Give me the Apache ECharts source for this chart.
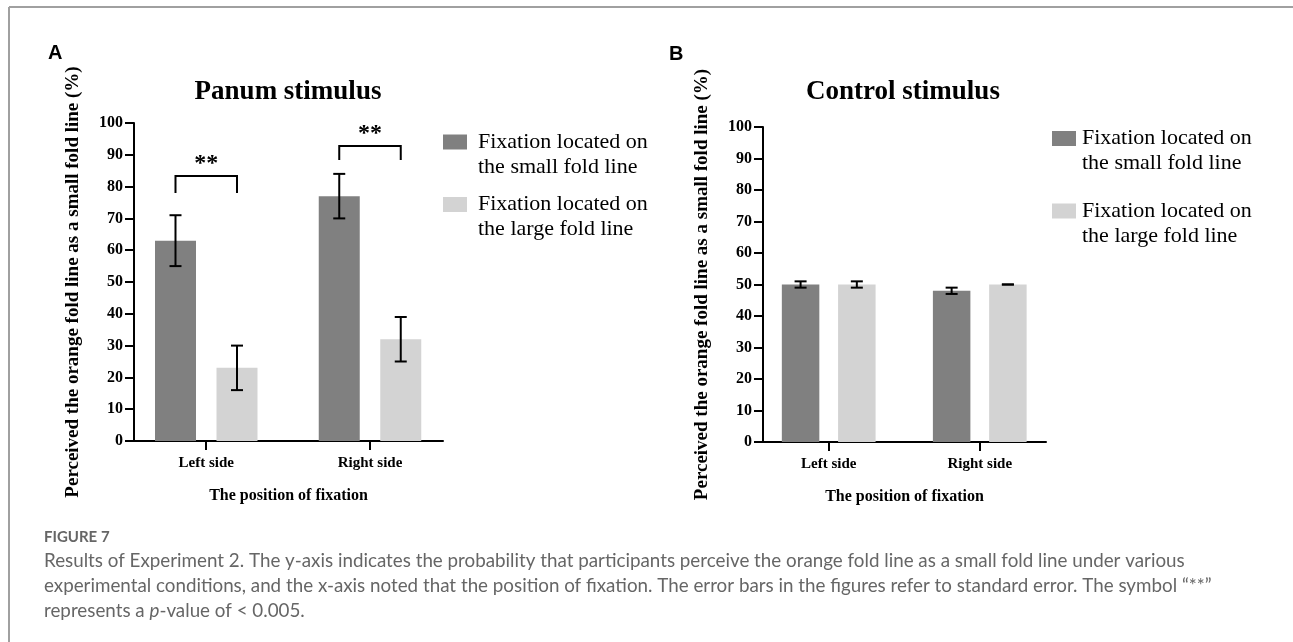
<!DOCTYPE html>
<html>
<head>
<meta charset="utf-8">
<script src="https://cdn.jsdelivr.net/npm/echarts@6/dist/echarts.min.js"></script>
<style>
html,body{margin:0;padding:0;background:#fff;}
#c{width:1293px;height:642px;}
</style>
</head>
<body>
<div id="c"></div>
<script>
// ---------------- data ----------------
const categories = ['Left side', 'Right side'];
const seriesNames = ['Fixation located on\nthe small fold line', 'Fixation located on\nthe large fold line'];
const yTicks = [0, 10, 20, 30, 40, 50, 60, 70, 80, 90, 100];

const panumSmall = [63, 77];
const panumSmallErr = [8, 7];
const panumLarge = [23, 32];
const panumLargeErr = [7, 7];

const controlSmall = [50, 48];
const controlSmallErr = [1, 1];
const controlLarge = [50, 50];
const controlLargeErr = [1, 0];

const sigTop = [83.3, 92.8];
const sigLeg = [78, 88.4];
const sigText = [88.4, 97.8];
const sigLabel = ['**', '**'];

const panelTitles = ['Panum stimulus', 'Control stimulus'];
const panelLetters = ['A', 'B'];
const yName = 'Perceived the orange fold line as a small fold line (%)';
const xName = 'The position of fixation';
const captionHead = 'FIGURE 7';
const captionLines = [
  'Results of Experiment 2. The y-axis indicates the probability that participants perceive the orange fold line as a small fold line under various',
  'experimental conditions, and the x-axis noted that the position of fixation. The error bars in the figures refer to standard error. The symbol \u201c**\u201d',
  '{n|represents a }{i|p}{n|-value of < 0.005.}'
];

// ---------------- style ----------------
const DARK = '#808080';
const LIGHT = '#d3d3d3';
const SERIF = '"Liberation Serif","Times New Roman",serif';
const CAP_FONT = 'Lato, "Open Sans", sans-serif';
const CAP_SIZE = 18.8;

const panels = [
  {grid: {left: 134, top: 123, width: 309, height: 318}, xmin: -0.4412, xmax: 1.4458, barW: 41,
   small: panumSmall, smallErr: panumSmallErr, large: panumLarge, largeErr: panumLargeErr, sig: true},
  {grid: {left: 763, top: 127, width: 283, height: 315}, xmin: -0.435, xmax: 1.4385, barW: 37.5,
   small: controlSmall, smallErr: controlSmallErr, large: controlLarge, largeErr: controlLargeErr, sig: false}
];

const grids = [], xAxes = [], yAxes = [], series = [];

panels.forEach((p, i) => {
  grids.push(Object.assign({containLabel: false}, p.grid));
  xAxes.push({
    type: 'value', gridIndex: i, min: p.xmin, max: p.xmax,
    name: xName, nameLocation: 'middle', nameGap: 47,
    nameTextStyle: {fontFamily: SERIF, fontWeight: 'bold', fontSize: 16, color: '#000'},
    axisLine: {show: true, onZero: false, lineStyle: {color: '#000', width: 2}},
    axisTick: {show: true, length: 9, customValues: [0, 1], lineStyle: {color: '#000', width: 2}},
    axisLabel: {show: true, customValues: [0, 1], margin: 15, formatter: v => categories[Math.round(v)],
      fontFamily: SERIF, fontWeight: 'bold', fontSize: 15, color: '#000'},
    splitLine: {show: false}
  });
  yAxes.push({
    type: 'value', gridIndex: i, min: 0, max: 100, interval: 10,
    name: yName, nameLocation: 'middle', nameGap: 51,
    nameTextStyle: {fontFamily: SERIF, fontWeight: 'bold', fontSize: 19, color: '#000'},
    axisLine: {show: true, onZero: false, lineStyle: {color: '#000', width: 2}},
    axisTick: {show: true, length: 9, lineStyle: {color: '#000', width: 2}},
    axisLabel: {margin: 11, fontFamily: SERIF, fontWeight: 'bold', fontSize: 16, color: '#000'},
    splitLine: {show: false}
  });
  const off = (p.barW * 1.5) / 2;
  const sets = [
    {name: seriesNames[0], vals: p.small, err: p.smallErr, color: DARK, sign: -1},
    {name: seriesNames[1], vals: p.large, err: p.largeErr, color: LIGHT, sign: 1}
  ];
  sets.forEach(s => {
    series.push({
      type: 'bar', name: s.name, xAxisIndex: i, yAxisIndex: i,
      barWidth: p.barW, barGap: '50%',
      itemStyle: {color: s.color},
      data: s.vals.map((v, k) => [k, v]),
      silent: true, z: 2
    });
  });
  sets.forEach(s => {
    series.push({
      type: 'custom', xAxisIndex: i, yAxisIndex: i, silent: true, z: 5,
      data: s.vals.map((v, k) => [k, v - s.err[k], v + s.err[k]]),
      renderItem: (params, api) => {
        const x = api.value(0);
        const lo = api.coord([x, api.value(1)]);
        const hi = api.coord([x, api.value(2)]);
        const cx = lo[0] + s.sign * off;
        const cap = 6;
        const st = {stroke: '#000', lineWidth: 2};
        return {type: 'group', children: [
          {type: 'line', shape: {x1: cx, y1: lo[1], x2: cx, y2: hi[1]}, style: st},
          {type: 'line', shape: {x1: cx - cap, y1: lo[1], x2: cx + cap, y2: lo[1]}, style: st},
          {type: 'line', shape: {x1: cx - cap, y1: hi[1], x2: cx + cap, y2: hi[1]}, style: st}
        ]};
      }
    });
  });
  if (p.sig) {
    series.push({
      type: 'custom', xAxisIndex: i, yAxisIndex: i, silent: true, z: 6,
      data: sigTop.map((t, k) => [k, t, sigLeg[k], sigText[k]]),
      renderItem: (params, api) => {
        const x = api.value(0);
        const top = api.coord([x, api.value(1)]);
        const leg = api.coord([x, api.value(2)]);
        const txt = api.coord([x, api.value(3)]);
        const lx = top[0] - off, rx = top[0] + off;
        return {type: 'group', children: [
          {type: 'polyline', shape: {points: [[lx, leg[1]], [lx, top[1]], [rx, top[1]], [rx, leg[1]]]},
           style: {stroke: '#000', lineWidth: 2, fill: null}},
          {type: 'text', x: top[0], y: txt[1] + 4,
           style: {text: sigLabel[params.dataIndex], font: 'bold 24px ' + SERIF, fill: '#000',
             textAlign: 'center', textVerticalAlign: 'middle'}}
        ]};
      }
    });
  }
});

// legend drawn as graphics from series names
const legendPos = [
  {sx: 443, tx: 478, y: [142, 204.5]},
  {sx: 1052, tx: 1082, y: [138.5, 211]}
];
const colors = [DARK, LIGHT];
const graphics = [];
legendPos.forEach(L => {
  seriesNames.forEach((n, k) => {
    graphics.push({type: 'rect', shape: {x: L.sx, y: L.y[k] - 7.5, width: 24, height: 15}, style: {fill: colors[k]}});
    graphics.push({type: 'text', x: L.tx, y: L.y[k] - 12.5,
      style: {text: n, font: '22px ' + SERIF, fill: '#000', lineHeight: 25, textVerticalAlign: 'top'}});
  });
});
// titles and panel letters
[[288, 92], [903, 92]].forEach((pt, k) => {
  graphics.push({type: 'text', x: pt[0], y: pt[1],
    style: {text: panelTitles[k], font: 'bold 27px ' + SERIF, fill: '#000', textAlign: 'center', textVerticalAlign: 'middle'}});
});
[[48, 53], [669, 54]].forEach((pt, k) => {
  graphics.push({type: 'text', x: pt[0], y: pt[1],
    style: {text: panelLetters[k], font: 'bold 20px "Liberation Sans", Arial, sans-serif', fill: '#000', textVerticalAlign: 'middle'}});
});
// frame
graphics.push({type: 'line', shape: {x1: 9, y1: 7, x2: 1293, y2: 7}, style: {stroke: '#a0a0a0', lineWidth: 2}});
graphics.push({type: 'line', shape: {x1: 9, y1: 7, x2: 9, y2: 642}, style: {stroke: '#a0a0a0', lineWidth: 2}});
// caption
graphics.push({type: 'text', x: 44, y: 537,
  style: {text: captionHead, font: 'bold 15px ' + CAP_FONT, fill: '#666', textVerticalAlign: 'middle'}});
captionLines.forEach((t, k) => {
  graphics.push({type: 'text', x: 44, y: 561 + k * 25,
    style: {text: t, font: CAP_SIZE + 'px ' + CAP_FONT, fill: '#666', textVerticalAlign: 'middle',
      rich: {n: {font: CAP_SIZE + 'px ' + CAP_FONT, fill: '#666'},
             i: {font: 'italic ' + CAP_SIZE + 'px ' + CAP_FONT, fill: '#666'}}}});
});

const chart = echarts.init(document.getElementById('c'), null, {renderer: 'canvas'});
chart.setOption({
  animation: false,
  backgroundColor: '#fff',
  grid: grids,
  xAxis: xAxes,
  yAxis: yAxes,
  series: series,
  graphic: graphics
});
</script>
</body>
</html>
